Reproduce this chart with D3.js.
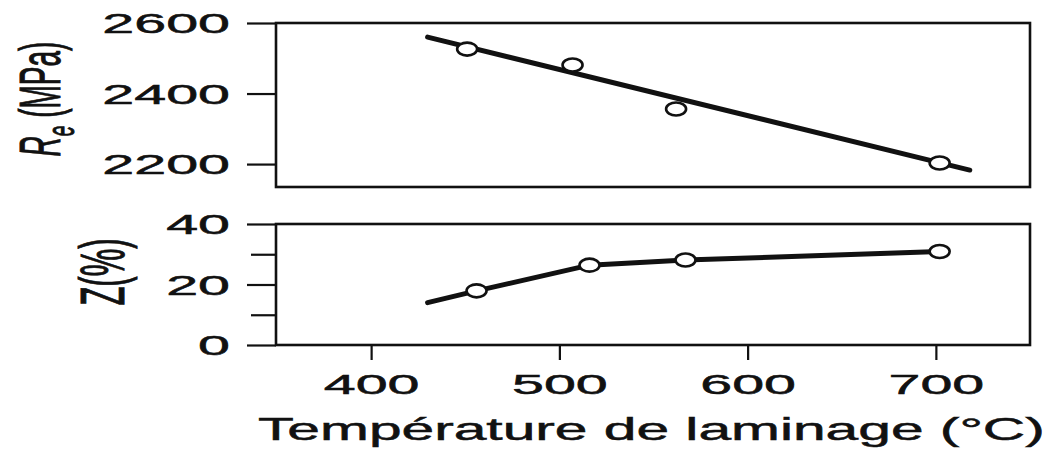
<!DOCTYPE html>
<html>
<head>
<meta charset="utf-8">
<script src="https://cdn.jsdelivr.net/npm/d3@7"></script>
<style>
  html, body { margin: 0; padding: 0; background: #fff; }
  svg { display: block; }
  text { font-family: "Liberation Sans", Arial, Helvetica, sans-serif; fill: #111; stroke: #111; stroke-width: 0.5; }
</style>
</head>
<body>
<svg id="chart" width="1055" height="452"></svg>
<script>
// ---- data ----
const xTicks = [400, 500, 600, 700];
const rTicks = [2200, 2400, 2600];
const zTicks = [0, 20, 40];
const zMinorTicks = [10, 30];

const rTemp  = [451, 507, 562, 702];
const rValue = [2526, 2481, 2356, 2203];
const rFitTemp  = [430, 718];
const rFitValue = [2560, 2183];

const zTemp  = [456, 516, 567, 702];
const zValue = [17.9, 26.4, 28.1, 30.9];
const zLineTemp  = [430, 456, 516, 567, 702];
const zLineValue = [14.0, 17.9, 26.4, 28.1, 30.9];

const xTitle = "Température de laminage (°C)";

// ---- layout ----
const SX = 2.05;          // horizontal stretch of the lettering
const left = 276, right = 1030;
const top1 = 23, bot1 = 187;
const top2 = 224, bot2 = 345;
const ink = "#111";

const svg = d3.select("#chart");

const x = d3.scaleLinear().domain([350, 750]).range([left + 1, right]);
const yR = d3.scaleLinear().domain([2135, 2600]).range([bot1, top1]);
const yZ = d3.scaleLinear().domain([0, 40]).range([bot2, top2]);

function styleAxis(g) {
  g.select(".domain").remove();
  g.selectAll(".tick line").attr("stroke", ink).attr("stroke-width", 2.2);
  g.selectAll(".tick text").attr("font-size", 28).attr("fill", ink)
    .attr("font-family", '"Liberation Sans", Arial, sans-serif');
}

// top panel y axis
const gR = svg.append("g").attr("transform", `translate(${left},0)`)
  .call(d3.axisLeft(yR).tickValues(rTicks).tickSize(29).tickPadding(16).tickFormat(d3.format("d")));
styleAxis(gR);
gR.selectAll(".tick text").attr("x", -46 / SX).attr("dy", "0.35em").attr("transform", `scale(${SX},1)`);

// bottom panel y axis
const gZ = svg.append("g").attr("transform", `translate(${left},0)`)
  .call(d3.axisLeft(yZ).tickValues(zTicks).tickSize(29).tickPadding(16).tickFormat(d3.format("d")));
styleAxis(gZ);
gZ.selectAll(".tick text").attr("x", -46 / SX).attr("dy", "0.35em").attr("transform", `scale(${SX},1)`);

const gZm = svg.append("g").attr("transform", `translate(${left},0)`)
  .call(d3.axisLeft(yZ).tickValues(zMinorTicks).tickSize(25).tickFormat(""));
styleAxis(gZm);

// x axis (bottom panel)
const gX = svg.append("g").attr("transform", `translate(0,${bot2})`)
  .call(d3.axisBottom(x).tickValues(xTicks).tickSize(15).tickPadding(15).tickFormat(d3.format("d")));
styleAxis(gX);
gX.selectAll(".tick text").attr("transform", `scale(${SX},1)`).attr("x", 0).attr("y", 29).attr("dy", "0.71em");

// frames
[[top1, bot1], [top2, bot2]].forEach(([t, b]) => {
  svg.append("rect").attr("x", left).attr("y", t).attr("width", right - left).attr("height", b - t)
    .attr("fill", "none").attr("stroke", ink).attr("stroke-width", 2.6);
});

// top panel fit line
const rFit = rFitTemp.map((t, i) => [t, rFitValue[i]]);
svg.append("path")
  .attr("d", d3.line().x(d => x(d[0])).y(d => yR(d[1]))(rFit))
  .attr("fill", "none").attr("stroke", ink).attr("stroke-width", 5).attr("stroke-linecap", "round");

// bottom panel line
const zLine = zLineTemp.map((t, i) => [t, zLineValue[i]]);
svg.append("path")
  .attr("d", d3.line().x(d => x(d[0])).y(d => yZ(d[1]))(zLine))
  .attr("fill", "none").attr("stroke", ink).attr("stroke-width", 5)
  .attr("stroke-linecap", "round").attr("stroke-linejoin", "round");

// markers
svg.append("g").selectAll("ellipse").data(rTemp.map((t, i) => [t, rValue[i]])).join("ellipse")
  .attr("cx", d => x(d[0])).attr("cy", d => yR(d[1])).attr("rx", 10).attr("ry", 6.5)
  .attr("fill", "#fff").attr("stroke", ink).attr("stroke-width", 2.6);
svg.append("g").selectAll("ellipse").data(zTemp.map((t, i) => [t, zValue[i]])).join("ellipse")
  .attr("cx", d => x(d[0])).attr("cy", d => yZ(d[1])).attr("rx", 10).attr("ry", 6.5)
  .attr("fill", "#fff").attr("stroke", ink).attr("stroke-width", 2.6);

// y titles (rotated, stretched)
const rt = svg.append("g").attr("transform", `translate(60,99) scale(${SX},1) rotate(-90)`)
  .append("text").attr("text-anchor", "middle").attr("font-size", 28);
rt.append("tspan").attr("font-style", "italic").text("R");
rt.append("tspan").attr("font-style", "italic").attr("font-size", 19).attr("dy", 7).text("e");
rt.append("tspan").attr("dy", -7).text(" (MPa)");

svg.append("g").attr("transform", `translate(124,272) scale(${SX},1) rotate(-90)`)
  .append("text").attr("text-anchor", "middle").attr("font-size", 31).text("Z(%)");

// x title: fit to its width
const xt = svg.append("text").attr("font-size", 32).attr("x", 0).attr("y", 0).text(xTitle);
const w = xt.node().getComputedTextLength();
const targetLeft = 258, targetRight = 1045;
xt.attr("transform", `translate(${targetLeft},440) scale(${(targetRight - targetLeft) / w},1)`);
</script>
</body>
</html>
